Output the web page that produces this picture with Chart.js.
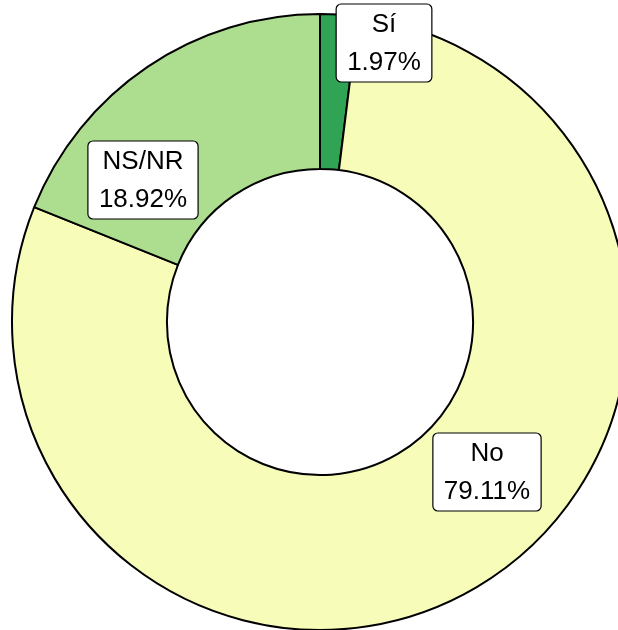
<!DOCTYPE html>
<html lang="es">

<head>
    <meta charset="UTF-8">
    <title>Sí / No / NS-NR</title>
    <script src="https://cdn.jsdelivr.net/npm/chart.js@4/dist/chart.umd.min.js"></script>
    <style>
        body { margin: 0; background: #fff; overflow: hidden; }
    </style>
</head>

<body>

    <canvas id="donut" width="618" height="630"></canvas>

    <script>
        const categories = ['Sí', 'No', 'NS/NR'];
        const percentages = [1.97, 79.11, 18.92];
        const percentLabels = ['1.97%', '79.11%', '18.92%'];
        const sliceColors = ['#31a354', '#f7fcb9', '#addd8e'];

        // boxed labels, shifted off the slice centre like ggrepel does
        const boxLabels = {
            id: 'boxLabels',
            afterDatasetsDraw(chart, args, opts) {
                const ctx = chart.ctx;
                const arcs = chart.getDatasetMeta(0).data;
                ctx.save();
                ctx.font = opts.font;
                ctx.textAlign = 'center';
                ctx.textBaseline = 'middle';
                arcs.forEach((arc, i) => {
                    const cx = arc.x + opts.offsets[i][0];
                    const cy = arc.y + opts.offsets[i][1];
                    const lines = [categories[i], percentLabels[i]];
                    const w = Math.max(...lines.map(l => ctx.measureText(l).width)) + opts.padX * 2;
                    const h = opts.boxHeight;
                    ctx.beginPath();
                    ctx.roundRect(cx - w / 2, cy - h / 2, w, h, 5);
                    ctx.fillStyle = '#ffffff';
                    ctx.fill();
                    ctx.lineWidth = 1.2;
                    ctx.strokeStyle = '#000000';
                    ctx.stroke();
                    ctx.fillStyle = '#000000';
                    ctx.fillText(lines[0], cx, cy - 18);
                    ctx.fillText(lines[1], cx, cy + 20);
                });
                ctx.restore();
            }
        };

        new Chart(document.getElementById('donut').getContext('2d'), {
            type: 'doughnut',
            data: {
                labels: categories,
                datasets: [{
                    data: percentages,
                    backgroundColor: sliceColors,
                    borderColor: '#000000',
                    borderWidth: 2
                }]
            },
            options: {
                responsive: false,
                animation: false,
                radius: 308,
                cutout: '49.7%',
                layout: { padding: { left: 22, top: 14, right: 0, bottom: 0 } },
                plugins: {
                    legend: { display: false },
                    tooltip: { enabled: false },
                    boxLabels: {
                        font: '26px "Liberation Sans", Arial, sans-serif',
                        padX: 11,
                        boxHeight: 78,
                        offsets: [[64, -279], [167, 150], [-177, -142]]
                    }
                }
            },
            plugins: [boxLabels]
        });
    </script>

</body>

</html>
